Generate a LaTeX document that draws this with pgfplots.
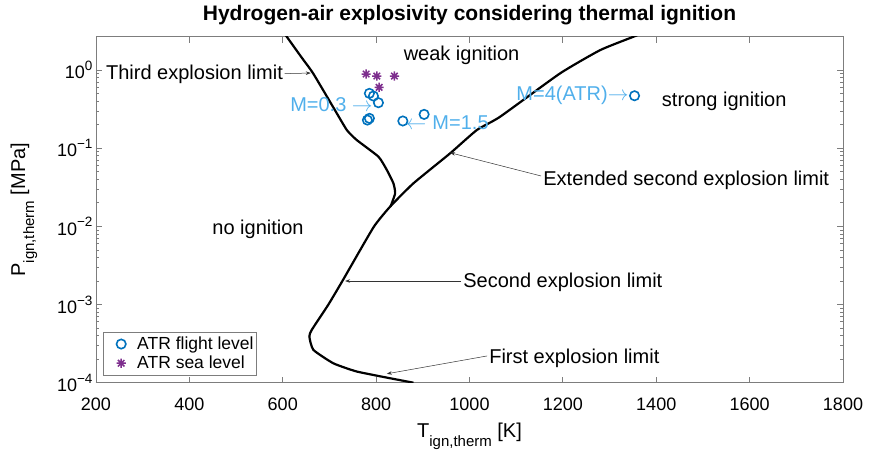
\documentclass[border=0pt]{standalone}
\usepackage{pgfplots}
\pgfplotsset{compat=1.18}
\usepackage{fontspec}
\setmainfont{Liberation Sans}
\usetikzlibrary{arrows.meta}
\definecolor{mblue}{RGB}{0,114,189}
\definecolor{mpurple}{RGB}{126,47,142}
\definecolor{lblue}{RGB}{80,175,235}
\definecolor{axgray}{RGB}{125,125,125}
\newcommand{\fs}[1]{\fontsize{#1}{#1}\selectfont}
\newcommand{\tenp}[1]{10\raisebox{0.45em}{\fs{13.5}#1}}
\pgfdeclareplotmark{mstar}{%
 \pgfpathmoveto{\pgfqpoint{0pt}{\pgfplotmarksize}}\pgfpathlineto{\pgfqpoint{0pt}{-\pgfplotmarksize}}%
 \pgfpathmoveto{\pgfqpoint{\pgfplotmarksize}{0pt}}\pgfpathlineto{\pgfqpoint{-\pgfplotmarksize}{0pt}}%
 \pgfpathmoveto{\pgfqpoint{.7071\pgfplotmarksize}{.7071\pgfplotmarksize}}\pgfpathlineto{\pgfqpoint{-.7071\pgfplotmarksize}{-.7071\pgfplotmarksize}}%
 \pgfpathmoveto{\pgfqpoint{-.7071\pgfplotmarksize}{.7071\pgfplotmarksize}}\pgfpathlineto{\pgfqpoint{.7071\pgfplotmarksize}{-.7071\pgfplotmarksize}}%
 \pgfusepathqstroke}
\begin{document}
\begin{tikzpicture}
\begin{axis}[
 at={(0pt,0pt)}, anchor=south west,
 scale only axis, width=747pt, height=346pt,
 xmin=200, xmax=1800, ymode=log, ymin=1e-4, ymax=2.67,
 xtick={200,400,600,800,1000,1200,1400,1600,1800},
 xticklabels={200,400,600,800,1000,1200,1400,1600,1800},
 ytick={1e-4,1e-3,1e-2,1e-1,1},
 yticklabels={\tenp{−4},\tenp{−3},\tenp{−2},\tenp{−1},\tenp{0}},
 tick label style={font=\fs{18}},
 xticklabel style={anchor=base, yshift=-27.3pt},
 major tick length=6pt, minor tick length=3pt,
 axis line style={axgray, line width=0.8pt},
 every tick/.style={axgray, line width=0.8pt},
 tick align=inside,
 title={Hydrogen-air explosivity considering thermal ignition},
 title style={font=\fs{21}\bfseries, at={(axis description cs:0.5,1)}, anchor=base, yshift=10pt},
 xlabel={T\raisebox{-9pt}{\fs{15}ign,therm} [K]},
 xlabel style={font=\fs{20}, at={(axis description cs:0.5,0)}, anchor=base, yshift=-54.3pt},
 ylabel={P\raisebox{-9pt}{\fs{15}ign,therm} [MPa]},
 ylabel style={font=\fs{20}, at={(axis description cs:-0.0964,0.5)}, anchor=center, rotate=0},
 legend style={at={(axis description cs:0,0)}, anchor=south west, xshift=7pt, yshift=7.7pt,
   draw=axgray, font=\fs{17.5}, row sep=0pt, inner xsep=1pt, inner ysep=2pt,
   nodes={inner ysep=2.5pt, inner xsep=2pt}},
 legend cell align=left,
 legend image code/.code={\path[draw=none,fill=none] (0pt,-5pt) rectangle (31pt,5pt); \draw[#1] plot coordinates {(17pt,0pt)};},
]
% Third explosion limit
\addplot[black, line width=2.2pt, forget plot, smooth, tension=0.3] coordinates {
 (602.5,3.0) (608.6,2.67) (640,1.46) (665,0.908) (710,0.32) (737.2,0.171) (758.6,0.127)
 (805,0.0779) (823,0.0526) (837,0.0356) (840.7,0.0265) (831,0.0180)
};
% Second + extended second explosion limit
\addplot[black, line width=2.2pt, forget plot, smooth, tension=0.3] coordinates {
 (880,1.0e-4) (830,1.14e-4) (758.6,1.39e-4) (708.5,1.77e-4) (665.6,2.63e-4) (657,3.88e-4)
 (662,4.73e-4) (697.8,1.0e-3) (729.2,2.07e-3) (794.2,9.7e-3) (830,0.0179) (880,0.0356)
 (958.6,0.0861) (1015.8,0.171) (1065.7,0.253) (1194.2,0.908) (1280,1.80) (1351.3,2.67) (1372,3.0)
};
% ATR flight level
\addplot[only marks, mark=o, mark size=4.7pt, mblue, line width=1.6pt] coordinates {
 (785.6,0.503) (794.2,0.465) (804.9,0.382) (781.3,0.229) (785.6,0.241)
 (857.2,0.223) (902.8,0.271) (1353.5,0.469)
};
\addlegendentry{ATR flight level}
% ATR sea level
\addplot[only marks, mark=mstar, mark size=4.6pt, mpurple, line width=1.5pt] coordinates {
 (778.6,0.889) (801.5,0.838) (839.2,0.838) (806.4,0.601)
};
\addlegendentry{ATR sea level}

% annotations
\node[font=\fs{20}, anchor=east, inner sep=0pt] at (axis cs:600.7,0.889) {Third explosion limit};
\draw[-{Stealth[length=5pt,width=3.5pt]}, line width=0.5pt, black!80] (axis cs:604,0.9) -- (axis cs:660,0.915);
\node[font=\fs{20}, inner sep=0pt] at (axis cs:983,1.556) {weak ignition};
\node[font=\fs{20}, inner sep=0pt] at (axis cs:1545.6,0.393) {strong ignition};
\node[font=\fs{20}, inner sep=0pt] at (axis cs:547,9.27e-3) {no ignition};
\node[font=\fs{20}, text=lblue, anchor=west, inner sep=0pt] at (axis cs:615.7,0.357) {M=0.3 $\rightarrow$};
\node[font=\fs{20}, text=lblue, anchor=west, inner sep=0pt] at (axis cs:863,0.21) {$\leftarrow$\hspace{6pt}M=1.5};
\node[font=\fs{20}, text=lblue, anchor=east, inner sep=0pt] at (axis cs:1341,0.479) {M=4(ATR)$\rightarrow$};
\node[font=\fs{20}, anchor=west, inner sep=0pt] at (axis cs:1157.8,0.0392) {Extended second explosion limit};
\draw[-{Stealth[length=5pt,width=3.5pt]}, line width=0.5pt, black!80] (axis cs:1153.5,0.0441) -- (axis cs:958.6,0.0875);
\node[font=\fs{20}, anchor=west, inner sep=0pt] at (axis cs:986.4,1.9e-3) {Second explosion limit};
\draw[-{Stealth[length=5pt,width=3.5pt]}, line width=0.5pt, black!80] (axis cs:982,2.0e-3) -- (axis cs:733.5,2.0e-3);
\node[font=\fs{20}, anchor=west, inner sep=0pt] at (axis cs:1042,2.07e-4) {First explosion limit};
\draw[-{Stealth[length=5pt,width=3.5pt]}, line width=0.5pt, black!80] (axis cs:1037.8,2.2e-4) -- (axis cs:822.9,1.30e-4);
\end{axis}
\pgfresetboundingbox
\useasboundingbox (-96pt,-69.3pt) rectangle (773pt,382.7pt);
\end{tikzpicture}
\end{document}
